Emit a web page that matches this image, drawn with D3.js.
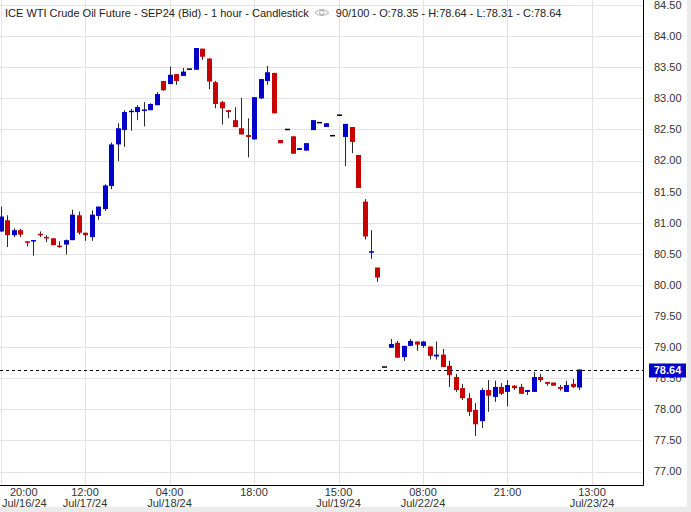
<!DOCTYPE html>
<html><head><meta charset="utf-8">
<script src="https://cdn.jsdelivr.net/npm/d3@7"></script>
<style>html,body{margin:0;padding:0;background:#fff;}svg{display:block;font-family:"Liberation Sans",Arial,sans-serif;}</style>
</head><body>
<svg id="c" width="691" height="512"></svg>
<script>
const opens  = [80.86,81.04,80.80,80.88,80.70,80.70,80.82,80.77,80.75,80.63,80.65,80.72,81.12,80.84,80.77,81.11,81.22,81.59,82.26,82.49,82.78,82.78,82.80,82.81,82.89,83.28,83.23,83.39,83.36,83.47,83.46,83.80,83.64,83.26,82.94,82.81,82.65,82.52,82.41,82.34,83.00,83.28,83.41,82.33,82.50,82.39,82.17,82.16,82.49,82.61,82.54,82.40,82.73,82.38,82.54,82.09,81.34,80.52,80.28,78.68,78.99,79.07,78.84,79.02,79.09,79.02,79.01,78.85,78.88,78.70,78.52,78.34,78.18,77.99,77.81,78.31,78.20,78.36,78.28,78.38,78.36,78.28,78.28,78.52,78.44,78.43,78.36,78.28,78.41,78.35];
const highs  = [81.26,81.12,80.91,80.90,80.70,80.72,80.86,80.80,80.75,80.70,80.73,81.21,81.18,80.84,81.20,81.26,81.62,82.29,82.60,82.81,82.83,82.89,82.94,82.92,83.10,83.28,83.51,83.39,83.49,83.47,83.81,83.80,83.65,83.28,82.96,82.81,82.86,83.01,82.68,83.02,83.31,83.52,83.41,82.33,82.50,82.39,82.20,82.28,82.65,82.61,82.60,82.40,82.73,82.59,82.54,82.09,81.38,80.88,80.28,78.68,79.13,79.10,79.02,79.13,79.09,79.10,79.01,79.09,78.97,78.78,78.57,78.41,78.26,78.10,78.34,78.47,78.46,78.42,78.47,78.39,78.41,78.31,78.60,78.57,78.44,78.43,78.39,78.46,78.49,78.64];
const lows   = [80.85,80.61,80.77,80.77,80.62,80.47,80.77,80.69,80.64,80.60,80.49,80.72,80.81,80.71,80.71,81.05,81.19,81.54,81.99,82.22,82.48,82.65,82.55,82.81,82.89,83.12,83.23,83.22,83.36,83.47,83.46,83.62,83.15,82.84,82.58,82.68,82.54,82.42,82.05,82.34,82.99,83.22,82.76,82.28,82.50,82.11,82.17,82.16,82.49,82.61,82.54,82.40,82.73,81.91,82.12,81.56,80.73,80.42,80.05,78.68,78.99,78.83,78.78,79.02,78.94,78.99,78.80,78.80,78.68,78.36,78.28,78.15,77.89,77.57,77.70,77.96,78.12,78.23,78.05,78.31,78.25,78.23,78.28,78.44,78.38,78.38,78.30,78.28,78.34,78.31];
const closes = [81.10,80.80,80.88,80.81,80.68,80.72,80.80,80.75,80.64,80.61,80.72,81.13,80.84,80.80,81.13,81.26,81.60,82.26,82.52,82.78,82.80,82.86,82.82,82.91,83.07,83.13,83.38,83.28,83.43,83.47,83.81,83.67,83.27,82.91,82.84,82.78,82.54,82.42,82.38,83.02,83.31,83.42,82.76,82.28,82.50,82.11,82.20,82.28,82.65,82.61,82.60,82.40,82.73,82.59,82.30,81.56,80.78,80.54,80.12,78.68,79.05,78.83,79.02,79.10,79.04,79.09,78.86,78.88,78.68,78.55,78.31,78.18,77.96,77.76,78.31,78.22,78.36,78.25,78.39,78.34,78.25,78.31,78.52,78.47,78.41,78.38,78.33,78.39,78.36,78.64];
const tickIdx   = [0,13,26,39,52,65,78,91];
const tickTimes = ["20:00","12:00","04:00","18:00","15:00","08:00","21:00","13:00"];
const tickDates = ["Jul/16/24","Jul/17/24","Jul/18/24","","Jul/19/24","Jul/22/24","","Jul/23/24"];
const yTicks = [77.0,77.5,78.0,78.5,79.0,79.5,80.0,80.5,81.0,81.5,82.0,82.5,83.0,83.5,84.0,84.5];
const lastPrice = 78.64;
const titleMain = "ICE WTI Crude Oil Future - SEP24 (Bid) - 1 hour - Candlestick";
const titleInfo = "90/100 - O:78.35 - H:78.64 - L:78.31 - C:78.64";

const svg = d3.select("#c");
const plotR = 643.5, plotB = 485.5;
const x = d3.scaleLinear().domain([0, 91]).range([0.5, 0.5 + 91*6.5]);
const y = d3.scaleLinear().domain([77, 84]).range([471.5, 36.2]);
const BLUE = "#0000c8", RED = "#c80000";

// shadow edges
svg.append("rect").attr("x",687).attr("y",0).attr("width",4).attr("height",512).attr("fill","#ebebeb");
svg.append("rect").attr("x",0).attr("y",507).attr("width",691).attr("height",5).attr("fill","#ebebeb");

// grid
const g = svg.append("g");
g.selectAll("line.hy").data(yTicks).join("line")
  .attr("x1",0).attr("x2",plotR).attr("y1",d=>Math.round(y(d))+0.5).attr("y2",d=>Math.round(y(d))+0.5)
  .attr("stroke","#e3e3e3").attr("stroke-width",1);
g.selectAll("line.vx").data(tickIdx).join("line")
  .attr("y1",0).attr("y2",plotB).attr("x1",d=>Math.round(x(d))+0.5).attr("x2",d=>Math.round(x(d))+0.5)
  .attr("stroke","#e3e3e3").attr("stroke-width",1);

// y labels
svg.selectAll("text.yl").data(yTicks).join("text")
  .attr("x",654).attr("y",d=>y(d)).attr("dy","0.35em")
  .attr("font-size",11).attr("fill","#333").text(d=>d.toFixed(2));

// x labels
const xl = svg.selectAll("g.xl").data(tickIdx).join("g");
xl.each(function(d,k){
  const gg = d3.select(this);
  const first = k===0;
  const px = first ? 2 : x(d);
  const anchor = first ? "start" : "middle";
  gg.append("text").attr("x", first ? 10 : px).attr("y",496).attr("font-size",11).attr("fill","#333")
    .attr("text-anchor",anchor).text(tickTimes[k]);
  if (tickDates[k]) gg.append("text").attr("x",px).attr("y",507).attr("font-size",11).attr("fill","#333")
    .attr("text-anchor",anchor).text(tickDates[k]);
});

// candles
const idx = d3.range(opens.length);
const cg = svg.append("g");
cg.selectAll("line.w").data(idx).join("line")
  .attr("x1",i=>Math.round(x(i))+0.5).attr("x2",i=>Math.round(x(i))+0.5)
  .attr("y1",i=>y(highs[i])).attr("y2",i=>y(lows[i]))
  .attr("stroke","#2a2a2a").attr("stroke-width",1);
cg.selectAll("rect.b").data(idx).join("rect")
  .attr("x",i=>Math.round(x(i))-2)
  .attr("width",5)
  .attr("y",i=>{const t=y(Math.max(opens[i],closes[i])); const h=Math.abs(y(opens[i])-y(closes[i])); return h<1.5 ? t-(1.5-h)/2 : t;})
  .attr("height",i=>Math.max(1.5,Math.abs(y(opens[i])-y(closes[i]))))
  .attr("fill",i=>closes[i]>opens[i]?BLUE:(closes[i]<opens[i]?RED:"#000"));

// borders
svg.append("line").attr("x1",plotR).attr("x2",plotR).attr("y1",0).attr("y2",plotB).attr("stroke","#000");
svg.append("line").attr("x1",0).attr("x2",plotR).attr("y1",plotB).attr("y2",plotB).attr("stroke","#000");

// last price
const ly = Math.round(y(lastPrice))+0.5;
svg.append("line").attr("x1",0).attr("x2",plotR).attr("y1",ly).attr("y2",ly)
  .attr("stroke","#000").attr("stroke-dasharray","3,3");
svg.append("rect").attr("x",649).attr("y",ly-7).attr("width",37).attr("height",14).attr("fill",BLUE);
svg.append("text").attr("x",667.5).attr("y",ly).attr("dy","0.35em").attr("text-anchor","middle")
  .attr("font-size",11).attr("font-weight","bold").attr("fill","#fff").text(lastPrice.toFixed(2));

// title
const t1 = svg.append("text").attr("x",5).attr("y",16.5).attr("font-size",11).attr("fill","#222").text(titleMain);
const w1 = t1.node().getComputedTextLength();
const ex = 5 + w1 + 13;
const eye = svg.append("g").attr("transform",`translate(${ex},12.5)`);
eye.append("path").attr("d","M-7,0 Q0,-6 7,0 Q0,6 -7,0 Z").attr("fill","none").attr("stroke","#aaa").attr("stroke-width",1);
eye.append("circle").attr("r",2.3).attr("fill","none").attr("stroke","#aaa");
svg.append("text").attr("x",ex+14).attr("y",16.5).attr("font-size",11).attr("fill","#222").text(titleInfo);
</script>
</body></html>
